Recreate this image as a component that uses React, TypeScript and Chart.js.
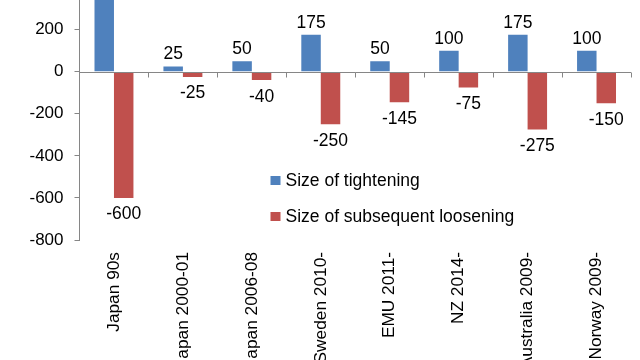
import React, { useEffect, useRef } from "react";
import { Chart, registerables } from "chart.js";
Chart.register(...registerables);

const categories = [
  "Japan 90s",
  "Japan 2000-01",
  "Japan 2006-08",
  "Sweden 2010-",
  "EMU 2011-",
  "NZ 2014-",
  "Australia 2009-",
  "Norway 2009-",
];
const tightening = [350, 25, 50, 175, 50, 100, 175, 100];
const loosening = [-600, -25, -40, -250, -145, -75, -275, -150];
const seriesNames = ["Size of tightening", "Size of subsequent loosening"];
const seriesColors = ["#4F81BD", "#C0504D"];
const yMin = -800;
const yMax = 400;
const yStep = 200;

const FONT = "'Liberation Sans', Arial, sans-serif";
const AXIS = "#868686";

const zeroAxis = {
  id: "zeroAxis",
  afterDatasetsDraw(chart: any) {
    const { ctx, chartArea, scales } = chart;
    const y0 = Math.round(scales.y.getPixelForValue(0)) + 0.5;
    const n = categories.length;
    const w = (chartArea.right - chartArea.left) / n;
    ctx.save();
    ctx.strokeStyle = AXIS;
    ctx.lineWidth = 1;
    ctx.beginPath();
    ctx.moveTo(chartArea.left, y0);
    ctx.lineTo(chartArea.right, y0);
    for (let i = 1; i <= n; i++) {
      const x = Math.round(chartArea.left + i * w) + 0.5;
      ctx.moveTo(x, y0);
      ctx.lineTo(x, y0 + 5);
    }
    ctx.stroke();
    ctx.restore();
  },
};

const dataLabels = {
  id: "dataLabels",
  afterDatasetsDraw(chart: any) {
    const { ctx } = chart;
    ctx.save();
    ctx.font = `17.5px ${FONT}`;
    ctx.fillStyle = "#000";
    ctx.textAlign = "center";
    ctx.textBaseline = "alphabetic";
    chart.data.datasets.forEach((ds: any, di: number) => {
      const meta = chart.getDatasetMeta(di);
      meta.data.forEach((el: any, i: number) => {
        const v = ds.data[i];
        const y = v >= 0 ? el.y - 7 : el.y + 21.5;
        ctx.fillText(String(v), el.x, y);
      });
    });
    ctx.restore();
  },
};

const innerLegend = {
  id: "innerLegend",
  afterDraw(chart: any) {
    const { ctx, chartArea } = chart;
    const x0 = chartArea.left + 191;
    const y0 = chartArea.top + 193;
    ctx.save();
    ctx.font = `17.5px ${FONT}`;
    ctx.textBaseline = "middle";
    ctx.textAlign = "left";
    chart.data.datasets.forEach((ds: any, i: number) => {
      const y = y0 + i * 36;
      ctx.fillStyle = ds.backgroundColor;
      ctx.fillRect(x0, y - 4.5, 10, 9);
      ctx.fillStyle = "#000";
      ctx.fillText(ds.label, x0 + 15, y + 1);
    });
    ctx.restore();
  },
};

export default function App() {
  const ref = useRef<HTMLCanvasElement>(null);
  useEffect(() => {
    if (!ref.current) return;
    const chart = new Chart(ref.current, {
      type: "bar",
      data: {
        labels: categories,
        datasets: [
          {
            label: seriesNames[0],
            data: tightening,
            backgroundColor: seriesColors[0],
            borderWidth: 0,
            categoryPercentage: 0.565,
            barPercentage: 1,
          },
          {
            label: seriesNames[1],
            data: loosening,
            backgroundColor: seriesColors[1],
            borderWidth: 0,
            categoryPercentage: 0.565,
            barPercentage: 1,
          },
        ],
      },
      options: {
        animation: false,
        responsive: false,
        layout: { padding: { top: 17.5, right: 9, left: 0, bottom: 0 } },
        plugins: {
          legend: { display: false },
          tooltip: { enabled: false },
        },
        scales: {
          x: {
            grid: { display: false, drawTicks: false },
            border: { display: false },
            ticks: {
              font: { family: FONT, size: 17.3 },
              color: "#000",
              minRotation: 90,
              maxRotation: 90,
              autoSkip: false,
              padding: 12,
            },
            afterFit(s: any) {
              s.height = 150;
              s.paddingLeft = 0;
              s.paddingRight = 0;
            },
          },
          y: {
            min: yMin,
            max: yMax,
            ticks: {
              stepSize: yStep,
              font: { family: FONT, size: 17 },
              color: "#000",
              padding: 11,
            },
            grid: { drawOnChartArea: false, tickLength: 5, tickColor: AXIS },
            border: { color: AXIS },
            afterFit(s: any) {
              s.width = 79.5;
              s.paddingTop = 0;
              s.paddingBottom = 0;
            },
          },
        },
      },
      plugins: [zeroAxis, dataLabels, innerLegend],
    });
    return () => chart.destroy();
  }, []);
  return (
    <canvas
      ref={ref}
      width={640}
      height={420}
      style={{ position: "fixed", left: 0, top: -30, width: 640, height: 420 }}
    />
  );
}
